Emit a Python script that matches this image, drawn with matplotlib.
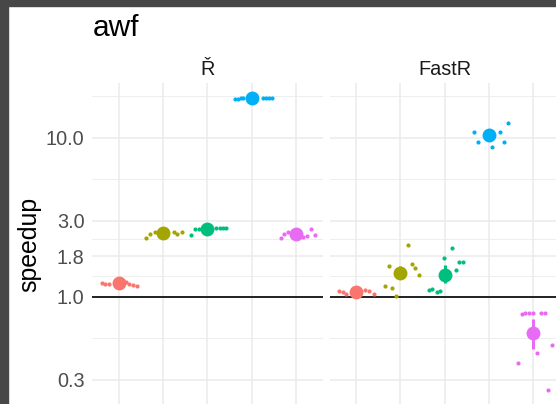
import numpy as np
import matplotlib
matplotlib.use("Agg")
import matplotlib.pyplot as plt
from matplotlib.patches import Rectangle

plt.rcParams['font.family'] = ['Liberation Sans', 'DejaVu Sans']

title = "awf"
panels = ["Ř", "FastR"]
colors = ["#F8766D", "#A3A500", "#00BF7D", "#00B0F6", "#E76BF3"]
y_breaks = [0.3, 1.0, 1.8, 3.0, 10.0]

# summary point per category (Ř panel, FastR panel)
r_center = [1.216, 2.52, 2.67, 17.69, 2.47]
fastr_center = [1.067, 1.418, 1.371, 10.4, 0.59]
fastr_lo = [1.067, 1.30, 1.22, 10.4, 0.47]
fastr_hi = [1.067, 1.56, 1.58, 10.4, 0.725]

# individual runs: horizontal jitter (category units) and speedup
r_dx = [
    [-0.377, -0.30, -0.225, 0.174, 0.232, 0.322, 0.413],
    [-0.374, -0.284, -0.187, -0.11, 0.241, 0.325, 0.428],
    [-0.36, -0.275, -0.196, 0.203, 0.277, 0.352, 0.428],
    [-0.377, -0.302, -0.248, -0.19, 0.262, 0.322, 0.383, 0.451],
    [-0.338, -0.27, -0.18, 0.165, 0.24, 0.33, 0.42],
]
r_y = [
    [1.216, 1.20, 1.21, 1.233, 1.209, 1.19, 1.167],
    [2.353, 2.493, 2.543, 2.53, 2.566, 2.48, 2.566],
    [2.457, 2.65, 2.687, 2.706, 2.706, 2.706, 2.706],
    [17.43, 17.58, 17.7, 17.77, 17.7, 17.7, 17.7, 17.7],
    [2.353, 2.47, 2.543, 2.387, 2.42, 2.657, 2.445],
]
fastr_dx = [
    [-0.378, -0.30, -0.226, 0.204, 0.30, 0.40],
    [0.16, -0.265, 0.25, 0.33, 0.415, -0.356, -0.18, -0.09],
    [0.17, -0.01, 0.33, 0.42, 0.25, -0.36, -0.28, -0.18, -0.11],
    [-0.35, 0.42, -0.26, 0.07, 0.33, 0.24],
    [-0.27, -0.19, -0.10, -0.01, 0.17, 0.26, 0.42, 0.08, -0.35, 0.33],
]
fastr_y = [
    [1.088, 1.077, 1.041, 1.103, 1.088, 1.037],
    [2.116, 1.568, 1.601, 1.51, 1.37, 1.174, 1.131, 1.016],
    [2.035, 1.746, 1.662, 1.662, 1.474, 1.103, 1.114, 1.067, 1.088],
    [10.9, 12.3, 9.36, 8.7, 9.44, 10.8],
    [0.776, 0.788, 0.788, 0.788, 0.788, 0.788, 0.4977, 0.445, 0.385, 0.2595],
]

W, H = 556, 404
fig = plt.figure(figsize=(W / 100, H / 100), dpi=100)

# log10 scale: 10.0 at y=137.7px, 159.1px per decade
def px_to_val(py):
    return 10 ** (1 - (py - 137.7) / 159.1)

top_px, bot_px = 83, 404
ylim = (px_to_val(bot_px), px_to_val(top_px))

# ggplot-style minor breaks: midpoints in log space, extended one step at the ends
lb = np.log10(y_breaks)
ext = np.concatenate([[lb[0] - (lb[1] - lb[0])], lb, [lb[-1] + (lb[-1] - lb[-2])]])
minor = 10 ** ((ext[:-1] + ext[1:]) / 2)

panel_left = [92.1, 329.5]
panel_w = 230.6
data = [
    (r_center, r_center, r_center, r_dx, r_y),
    (fastr_center, fastr_lo, fastr_hi, fastr_dx, fastr_y),
]

for i, name in enumerate(panels):
    ax = fig.add_axes([panel_left[i] / W, 0, panel_w / W, (bot_px - top_px) / H])
    ax.set_yscale('log')
    ax.set_ylim(*ylim)
    ax.set_xlim(0.4, 5.6)
    for s in ax.spines.values():
        s.set_visible(False)
    ax.set_xticks([])
    ax.minorticks_off()
    ax.set_yticks([])
    for m in minor:
        ax.axhline(m, color='#EBEBEB', lw=0.6, zorder=0)
    for b in y_breaks:
        ax.axhline(b, color='#EBEBEB', lw=1.1, zorder=0)
    for c in range(1, 6):
        ax.axvline(c, color='#EBEBEB', lw=1.1, zorder=0)
    ax.axhline(1.0, color='#222222', lw=1.4, zorder=1)

    center, lo, hi, dxs, ys = data[i]
    for c in range(5):
        x = c + 1
        ax.scatter(x + np.array(dxs[c]), ys[c], s=9, color=colors[c],
                   linewidths=0, zorder=2)
        ax.vlines(x, lo[c], hi[c], color=colors[c], lw=2.2, zorder=3)
        ax.scatter([x], [center[c]], s=100, color=colors[c], linewidths=0, zorder=4)

    ax.text(0.5, 1 + 8 / (bot_px - top_px), name, transform=ax.transAxes,
            ha='center', va='baseline', fontsize=14.3, color='#1A1A1A')

    if i == 0:
        for b in y_breaks:
            ax.text(-7.7 / panel_w, b, f"{b:.1f}", transform=ax.get_yaxis_transform(),
                    ha='right', va='center_baseline', fontsize=14.3, color='#4D4D4D')

fig.text(93 / W, 1 - 36 / H, title, ha='left', va='baseline', fontsize=21.5, color='black')
fig.text(29 / W, 1 - 244.5 / H, "speedup", rotation=90, ha='center', va='center',
         fontsize=17.9, color='black')

# dark frame of the screenshot
fig.patches.append(Rectangle((0, 1 - 6 / H), 1, 6 / H, transform=fig.transFigure,
                             color='#474747', zorder=10))
fig.patches.append(Rectangle((0, 0), 7.7 / W, 1, transform=fig.transFigure,
                             color='#474747', zorder=10))

fig.savefig("out.png", dpi=100)
